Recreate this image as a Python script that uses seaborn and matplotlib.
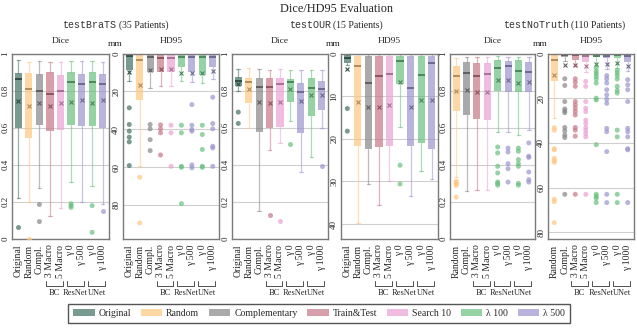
import numpy as np
import pandas as pd
import seaborn as sns
import matplotlib
matplotlib.use("Agg")
import matplotlib.pyplot as plt
import matplotlib.colors as mcolors
import matplotlib.transforms as mtransforms
from matplotlib.patches import Patch

# legend entries and their colours
methods = ["Original", "Random", "Complementary", "Train&Test", "Search 10", "λ 100", "λ 500"]
method_colors = ["#417062", "#ffc67f", "#868686", "#c67786", "#eaa2d4", "#69bf7e", "#9b94cd"]

# x categories
cat_keys = ["orig", "rand", "compl", "m3", "m5", "res0", "res500", "unet0", "unet1000"]
cat_labels = ["Original", "Random", "Compl.", "3 Macro", "5 Macro", "γ 0", "γ 500", "γ 0", "γ 1000"]
cat_methods = ["Original", "Random", "Complementary", "Train&Test", "Search 10",
               "λ 100", "λ 500", "λ 100", "λ 500"]
group_names = ["BC", "ResNet", "UNet"]
group_spans = [("m3", "m5"), ("res0", "res500"), ("unet0", "unet1000")]

# box stats per category: (whisker low, q1, median, q3, whisker high, mean)
brats_dice = [
    (0.220, 0.600, 0.860, 0.896, 0.963, 0.745),
    (0.198, 0.542, 0.806, 0.896, 0.956, 0.716),
    (0.274, 0.612, 0.799, 0.891, 0.960, 0.731),
    (0.123, 0.581, 0.781, 0.900, 0.956, 0.716),
    (0.169, 0.590, 0.797, 0.882, 0.956, 0.734),
    (0.306, 0.615, 0.844, 0.900, 0.960, 0.740),
    (0.200, 0.608, 0.833, 0.891, 0.960, 0.749),
    (0.288, 0.610, 0.844, 0.900, 0.960, 0.734),
    (0.190, 0.600, 0.833, 0.891, 0.956, 0.749),
]
brats_dice_fliers = [[0.067], [0.0], [0.186, 0.094], [], [], [0.19, 0.18, 0.17], [], [0.18, 0.036], [0.15]]

brats_hd = [
    (0, 0.5, 1.4, 8.5, 14.6, 9.7),
    (0, 0.5, 3.2, 24.7, 59.6, 16.4),
    (0, 0.5, 1.9, 9.7, 18.1, 8.5),
    (0, 0.5, 2.6, 9.7, 17.1, 8.1),
    (0, 0.5, 2.6, 9.7, 17.1, 8.1),
    (0, 0.5, 1.9, 7.0, 14.4, 10.2),
    (0, 0.5, 1.8, 9.7, 15.0, 10.2),
    (0, 0.5, 1.8, 11.1, 15.5, 10.2),
    (0, 0.5, 1.9, 7.2, 13.7, 9.5),
]
brats_hd_fliers = [
    [28.7, 37.5, 41.0, 44.2, 46.7, 59.2],
    [65.4, 89.5],
    [37.5, 39.8, 45.5, 51.3],
    [37.7, 39.8, 41.9, 53.6],
    [37.9, 41.9, 59.6],
    [37.9, 41.9, 59.6, 60.1, 79.3],
    [27.0, 37.9, 40.2, 41.0, 58.9, 60.4],
    [37.9, 42.8, 50.7, 59.6, 60.1],
    [23.1, 37.0, 39.8, 49.0, 49.9, 59.6],
]

our_dice = [
    (0.800, 0.826, 0.853, 0.871, 0.916, 0.833),
    (0.600, 0.731, 0.848, 0.866, 0.923, 0.806),
    (0.150, 0.577, 0.817, 0.866, 0.916, 0.736),
    (0.482, 0.596, 0.820, 0.866, 0.912, 0.734),
    (0.520, 0.604, 0.833, 0.866, 0.916, 0.740),
    (0.635, 0.737, 0.848, 0.862, 0.912, 0.806),
    (0.361, 0.569, 0.792, 0.842, 0.912, 0.745),
    (0.442, 0.664, 0.815, 0.866, 0.912, 0.776),
    (0.596, 0.695, 0.806, 0.853, 0.912, 0.776),
]
our_dice_fliers = [[0.684, 0.623], [], [], [0.131], [0.098], [0.511], [], [], [0.394]]

our_hd = [
    (0, 0.4, 1.1, 2.3, 2.8, 3.7),
    (0, 0.5, 2.9, 21.6, 39.8, 11.4),
    (0, 0.5, 7.0, 22.4, 30.5, 12.5),
    (0, 0.5, 5.3, 22.0, 35.6, 12.5),
    (0, 0.5, 4.9, 21.7, 29.8, 12.0),
    (0, 0.5, 1.7, 7.2, 17.3, 6.7),
    (0, 0.5, 8.2, 21.6, 33.3, 12.5),
    (0, 0.5, 5.0, 21.1, 27.5, 10.8),
    (0, 0.5, 2.3, 22.5, 29.4, 10.8),
]
our_hd_fliers = [[12.9, 18.2], [], [], [], [], [26.2, 30.6], [], [], []]

# testNoTruth has no "Original" column
nt_dice = [
    (0.334, 0.689, 0.878, 0.932, 0.974, 0.799),
    (0.257, 0.669, 0.896, 0.956, 0.980, 0.803),
    (0.266, 0.648, 0.878, 0.950, 0.980, 0.794),
    (0.266, 0.644, 0.887, 0.950, 0.980, 0.790),
    (0.577, 0.799, 0.923, 0.965, 0.985, 0.857),
    (0.577, 0.794, 0.932, 0.961, 0.980, 0.857),
    (0.563, 0.794, 0.905, 0.965, 0.980, 0.839),
    (0.586, 0.794, 0.902, 0.956, 0.980, 0.844),
]
nt_dice_fliers = [
    [0.312, 0.302, 0.298, 0.289, 0.226],
    [], [], [],
    [0.496, 0.464, 0.392, 0.356, 0.307, 0.300, 0.290],
    [0.490, 0.469, 0.406, 0.379, 0.307],
    [0.490, 0.473, 0.428, 0.406, 0.392, 0.300, 0.290],
    [0.518, 0.446, 0.440, 0.361, 0.320, 0.307],
]

nt_hd = [
    (0, 0.5, 3.0, 12.2, 29.0, 9.5),
    (0, 0.2, 0.5, 1.5, 3.5, 5.0),
    (0, 0.2, 0.75, 2.7, 5.5, 5.0),
    (0, 0.2, 0.9, 3.9, 8.4, 5.7),
    (0, 0.2, 0.9, 1.5, 5.4, 4.5),
    (0, 0.2, 0.9, 2.0, 6.9, 4.5),
    (0, 0.2, 0.6, 2.0, 6.5, 4.2),
    (0, 0.2, 0.9, 3.9, 8.0, 5.4),
]
nt_hd_fliers = [
    [33.2, 34.3, 42.6, 43.1, 46.9, 47.9, 48.7, 65.2, 66.3, 75.7],
    [11.3, 14.3, 21.5, 24.8, 25.7, 26.5, 33.1, 34.6, 36.5, 37.6, 63.0],
    [11.3, 12.8, 14.7, 21.5, 23.0, 24.5, 26.0, 27.5, 33.1, 34.3, 37.0, 63.0],
    [12.5, 14.7, 21.5, 24.5, 26.0, 29.8, 31.3, 33.1, 34.3, 35.8, 37.3, 63.0],
    [6.5, 8.0, 9.0, 10.2, 11.4, 13.2, 20.0, 20.8, 40.8, 63.0, 64.0, 64.8, 66.7],
    [9.9, 11.4, 13.2, 16.2, 18.5, 20.5, 22.3, 33.5, 35.0, 43.9, 63.0, 66.7],
    [7.5, 8.7, 9.9, 11.4, 14.7, 16.5, 17.7, 34.3, 37.3, 63.0, 66.7],
    [11.7, 14.0, 16.2, 21.5, 33.5, 35.0, 37.3, 42.6, 43.1, 66.7],
]

test_sets = ["testBraTS", "testOUR", "testNoTruth"]
patients = ["(35 Patients)", "(15 Patients)", "(110 Patients)"]

sns.set_theme(style="white")
plt.rcParams["font.family"] = ["Liberation Serif", "DejaVu Serif"]
plt.rcParams["axes.edgecolor"] = "#7a7a7a"
plt.rcParams["axes.linewidth"] = 1.0

color_of = {k: method_colors[methods.index(m)] for k, m in zip(cat_keys, cat_methods)}
label_of = dict(zip(cat_keys, cat_labels))


def darker(c, f=0.7):
    r, g, b = mcolors.to_rgb(c)
    return (r * f, g * f, b * f)


def draw_boxes(ax, keys, stats, fliers):
    pal = {k: color_of[k] for k in keys}
    df = pd.DataFrame([(k, v) for k, fl in zip(keys, fliers) for v in fl], columns=["cat", "value"])
    sns.stripplot(data=df, x="cat", y="value", hue="cat", order=keys, hue_order=keys,
                  palette=pal, jitter=False, size=3.6, alpha=0.7, linewidth=0,
                  legend=False, ax=ax, zorder=4)
    for i, (k, s) in enumerate(zip(keys, stats)):
        c = color_of[k]
        d = darker(c)
        lo, q1, med, q3, hi, mean = s
        ax.bxp([dict(whislo=lo, q1=q1, med=med, q3=q3, whishi=hi, mean=mean, fliers=[])],
               positions=[i], widths=0.68, patch_artist=True, showmeans=True,
               showfliers=False, manage_ticks=False,
               boxprops=dict(facecolor=c, edgecolor="none", alpha=0.7),
               whiskerprops=dict(color=c, alpha=0.55, lw=0.9),
               capprops=dict(color=c, alpha=0.55, lw=0.9),
               medianprops=dict(color=d, lw=1.4),
               meanprops=dict(marker="x", markeredgecolor=d, markersize=3.4, markeredgewidth=0.8))
    ax.set_xlabel("")
    ax.set_ylabel("")
    ax.set_xlim(-0.6, len(keys) - 0.4)
    ax.set_xticks(range(len(keys)))
    ax.set_xticklabels([label_of[k] for k in keys], rotation=90, fontsize=7)
    ax.tick_params(axis="x", length=0, pad=4)
    ax.tick_params(axis="y", length=0, pad=2, labelsize=6.5, labelrotation=90)
    for lab in ax.get_yticklabels():
        lab.set_va("center")
    ax.grid(axis="y", color="#cfcfcf", lw=0.8)
    ax.grid(axis="x", visible=False)
    ax.set_axisbelow(True)
    # brackets for model groups
    trans = mtransforms.blended_transform_factory(ax.transData, ax.transAxes)
    for name, (a, b) in zip(group_names, group_spans):
        i, j = keys.index(a), keys.index(b)
        x0, x1 = i - 0.38, j + 0.22
        ax.plot([x0, x0, x1, x1], [-0.226, -0.253, -0.253, -0.226], transform=trans,
                clip_on=False, color="#333333", lw=0.6)
        ax.text((x0 + x1) / 2, -0.293, name, transform=trans, ha="center", va="center", fontsize=6)


W, H = 637, 328
fig = plt.figure(figsize=(W / 100, H / 100), dpi=100)

panel_x = [(12, 97), (123, 96), (232, 96), (341, 97), (450, 85), (548, 86)]
top_px, bot_px = 53.5, 239
dice_sets = [brats_dice, our_dice, nt_dice]
dice_fl = [brats_dice_fliers, our_dice_fliers, nt_dice_fliers]
hd_sets = [brats_hd, our_hd, nt_hd]
hd_fl = [brats_hd_fliers, our_hd_fliers, nt_hd_fliers]
hd_lims = [98, 43.5, 83]
hd_ticks = [[0, 20, 40, 60, 80], [0, 10, 20, 30, 40], [0, 20, 40, 60, 80]]
sub_centers = [115.5, 336, 564]


def add_ax(x, w):
    return fig.add_axes([x / W, 1 - bot_px / H, w / W, (bot_px - top_px) / H])


for g in range(3):
    keys = cat_keys if g < 2 else cat_keys[1:]
    xd, wd = panel_x[2 * g]
    xh, wh = panel_x[2 * g + 1]

    ax_d = add_ax(xd, wd)
    draw_boxes(ax_d, keys, dice_sets[g], dice_fl[g])
    ax_d.set_ylim(0, 1)
    ax_d.set_yticks([0, 0.2, 0.4, 0.6, 0.8, 1])
    ax_d.set_yticklabels(["0", "0.2", "0.4", "0.6", "0.8", "1"])
    fig.text((xd + wd / 2) / W, 1 - 41 / H, "Dice", ha="center", va="center", fontsize=6.8)

    ax_h = add_ax(xh, wh)
    draw_boxes(ax_h, keys, hd_sets[g], hd_fl[g])
    ax_h.set_ylim(hd_lims[g], 0)
    ax_h.set_yticks(hd_ticks[g])
    ax_h.set_yticklabels([str(t) for t in hd_ticks[g]])
    fig.text((xh + wh / 2) / W, 1 - 41 / H, "HD95", ha="center", va="center", fontsize=6.8)
    fig.text((xh - 8) / W, 1 - 44 / H, "mm", ha="center", va="center", fontsize=6.8)

    # subtitle with monospace data set name
    t1 = fig.text(0, 1 - 25 / H, test_sets[g], family="Liberation Mono", fontsize=7.2,
                  color="#333333", ha="left", va="center")
    t2 = fig.text(0, 1 - 25 / H, patients[g], fontsize=7, ha="left", va="center")
    r = fig.canvas.get_renderer()
    w1 = t1.get_window_extent(r).width
    w2 = t2.get_window_extent(r).width
    gap = 2.5
    x0 = sub_centers[g] - (w1 + gap + w2) / 2
    t1.set_x(x0 / W)
    t2.set_x((x0 + w1 + gap) / W)

fig.text(336 / W, 1 - 8.5 / H, "Dice/HD95 Evaluation", ha="center", va="center", fontsize=8.8)

handles = [Patch(facecolor=c, edgecolor="none", alpha=0.7) for c in method_colors]
fig.legend(handles, methods, loc="center", bbox_to_anchor=(319 / W, 1 - 313.5 / H), ncol=7,
           frameon=True, fancybox=False, edgecolor="#555555", framealpha=1,
           handlelength=2.2, handleheight=0.8, columnspacing=1.0, handletextpad=0.4,
           borderpad=0.5, fontsize=7)

fig.savefig("out.png", dpi=100)
